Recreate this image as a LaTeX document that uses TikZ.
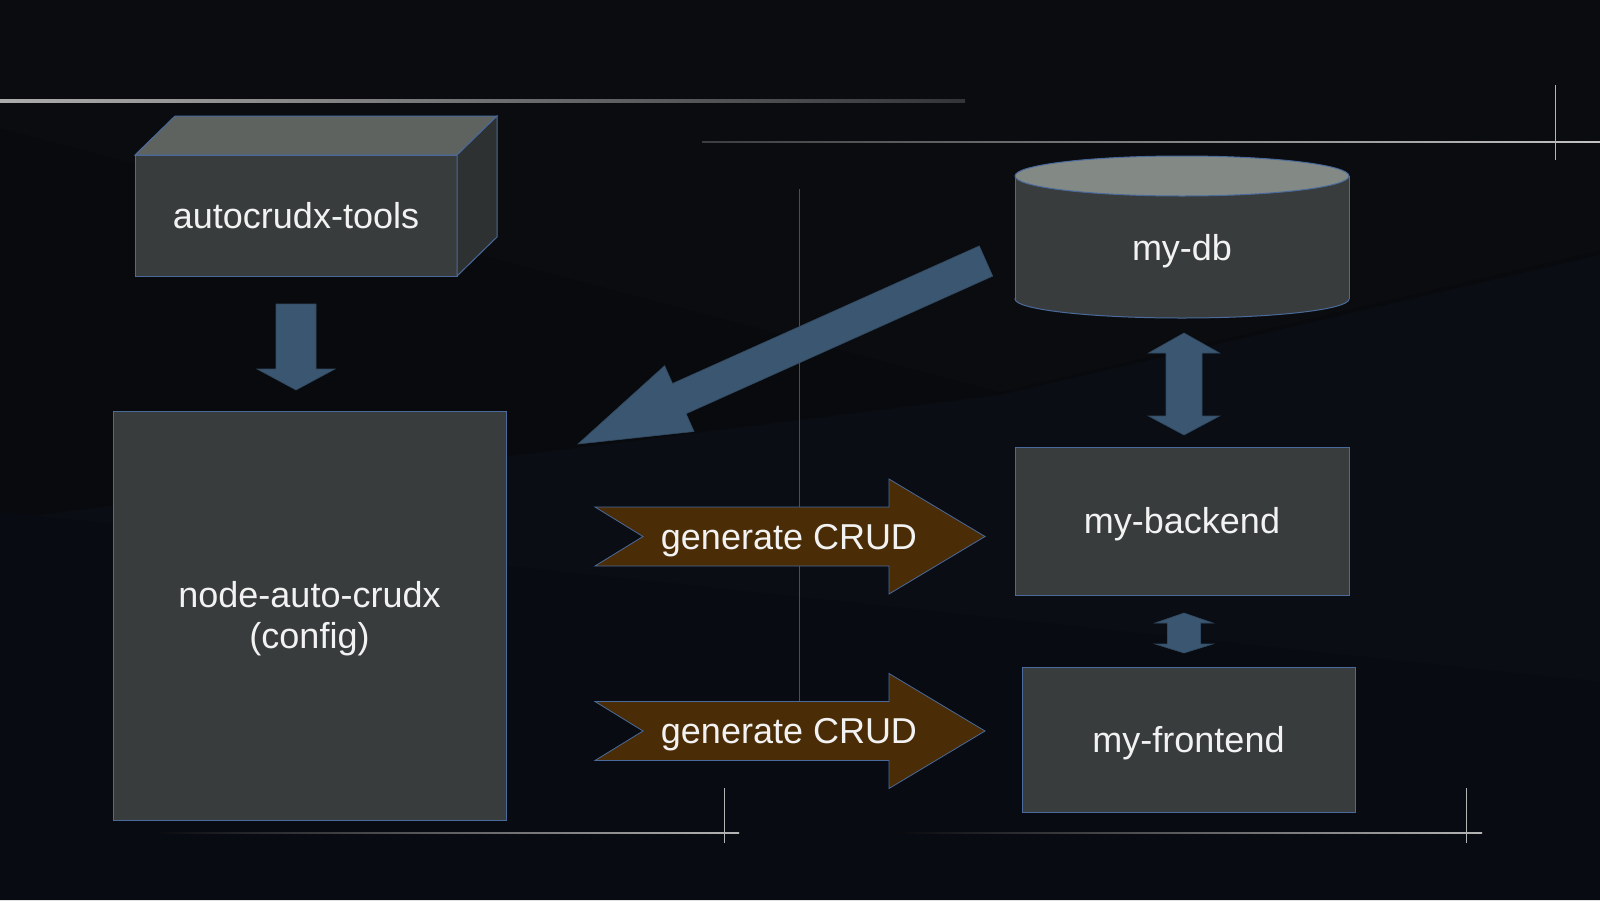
\documentclass[tikz,border=0pt]{standalone}
\usepackage{fontspec}
\setmainfont{Liberation Sans}

\definecolor{bgbase}{HTML}{090A0E}
\definecolor{bgtop}{HTML}{0B0C10}
\definecolor{bgwedge}{HTML}{0A0E14}
\definecolor{bgbot}{HTML}{080C12}
\definecolor{boxfill}{HTML}{383C3C}
\definecolor{boxline}{HTML}{4A6A9C}
\definecolor{boxtop}{HTML}{5E6360}
\definecolor{boxside}{HTML}{2E3131}
\definecolor{dbtop}{HTML}{838A86}
\definecolor{arrowblue}{HTML}{3A5671}
\definecolor{crudbrown}{HTML}{4A2C06}
\definecolor{labeltext}{HTML}{F2F2F2}
\definecolor{rulegray}{HTML}{B4B4B4}

\newcommand{\bigfont}{\fontsize{36pt}{41pt}\selectfont}

\begin{document}
\begin{tikzpicture}[x=1pt, y=-1pt,
    box/.style={rectangle, draw=boxline, line width=1pt, fill=boxfill,
                text=labeltext, font=\bigfont, align=center,
                text height=32.6pt, text depth=7.6pt,
                inner sep=0pt, outer sep=0pt},
    lbl/.style={text=labeltext, font=\bigfont, align=center,
                text height=32.6pt, text depth=7.6pt, inner sep=0pt},
    multilbl/.style={text=labeltext, font=\bigfont, align=center, inner sep=0pt},
    face/.style={draw=boxline, line width=1pt},
    blockarr/.style={fill=arrowblue, draw=arrowblue!85!black, line width=0.6pt},
    crudarr/.style={fill=crudbrown, draw=boxline, line width=0.8pt},
    hair/.style={draw=rulegray, line width=0.9pt},
  ]

  % Background
  \useasboundingbox (0,0) rectangle (1600,900);
  \fill[bgbase] (0,0) rectangle (1600,900);
  \fill[bgtop] (0,0) -- (1600,0) -- (1600,250) -- (1000,392) -- (0,128) -- cycle;
  \fill[bgwedge] (0,520) -- (1000,395) -- (1600,255) -- (1600,682) -- (0,512) -- cycle;
  \fill[bgbot] (0,512) -- (1600,682) -- (1600,900) -- (0,900) -- cycle;

  % Decorative rules
  \shade[left color=rulegray!110, right color=rulegray!25!bgbase]
    (0,99.5) rectangle (965,102.5);
  \shade[left color=rulegray!30!bgbase, right color=rulegray!80]
    (702,141.5) rectangle (1600,142.7);
  \draw[hair] (1555,85) -- (1555,160);
  \draw[draw=rulegray!40!bgbase, line width=0.9pt] (799,189) -- (799,704);
  \shade[left color=bgbase, right color=rulegray]
    (153,832.5) rectangle (739,833.7);
  \draw[hair] (724,788) -- (724,843);
  \shade[left color=bgbase, right color=rulegray]
    (898,832.5) rectangle (1482,833.7);
  \draw[hair] (1466,788) -- (1466,843);

  % Tools box (3D)
  \node[box, minimum width=322pt, minimum height=121pt] (tools)
    at (296,215.5) {autocrudx-tools};
  \filldraw[face, fill=boxtop] (tools.north west) -- ++(40,-39)
    -- ++(322,0) -- (tools.north east) -- cycle;
  \filldraw[face, fill=boxside] (tools.north east) -- ++(40,-39)
    -- ++(0,121) -- (tools.south east) -- cycle;

  % Config box
  \node[box, minimum width=393pt, minimum height=409pt] (cfg)
    at (309.5,615.5) {};
  \node[multilbl] (cfgtext) at (309.5,618.5) {node-auto-crudx\\(config)};

  % Down arrow
  \filldraw[blockarr] (tools.south) ++(-20,28) -- ++(40,0) -- ++(0,65)
    -- ++(19,0) -- ++(-39,21) -- ++(-39,-21) -- ++(19,0) -- cycle;

  % Database cylinder
  \filldraw[face, fill=boxfill] (1182,299) ellipse [x radius=167pt, y radius=19pt];
  \fill[boxfill] (1015,176) rectangle (1349,299);
  \draw[face] (1015,176) -- (1015,299) (1349,176) -- (1349,299);
  \filldraw[face, fill=dbtop] (1182,176) ellipse [x radius=167pt, y radius=20pt];
  \node[lbl] (db) at (1182,248) {my-db};

  % Service boxes
  \node[box, minimum width=334pt, minimum height=148pt] (backend)
    at (1182,521) {my-backend};
  \node[box, minimum width=333pt, minimum height=145pt] (frontend)
    at (1188.5,739.5) {my-frontend};

  % Diagonal arrow from db
  \filldraw[blockarr] (578,444) -- (664.6,365.7) -- (672.5,383.5)
    -- (979.3,245.9) -- (992.7,276.1) -- (686.1,413.7) -- (694,431.5) -- cycle;

  % Double arrows
  \filldraw[blockarr] (1184,333) -- ++(35.5,20) -- ++(-17.5,0) -- ++(0,63)
    -- ++(17.5,0) -- ++(-35.5,19) -- ++(-35.5,-19) -- ++(17.5,0)
    -- ++(0,-63) -- ++(-17.5,0) -- cycle;
  \filldraw[blockarr] (1184,613) -- ++(29,10) -- ++(-12.5,0) -- ++(0,21)
    -- ++(12.5,0) -- ++(-29,9) -- ++(-29,-9) -- ++(12.5,0)
    -- ++(0,-21) -- ++(-12.5,0) -- cycle;

  % Generate arrows
  \coordinate (g1) at (789,536.5);
  \coordinate (g2) at (789,731);
  \filldraw[crudarr] (g1) ++(-194,-29.5) -- ++(294,0) -- ++(0,-28)
    -- ++(96,57.5) -- ++(-96,57.5) -- ++(0,-28) -- ++(-294,0)
    -- ++(48,-29.5) -- cycle;
  \filldraw[crudarr] (g2) ++(-194,-29.5) -- ++(294,0) -- ++(0,-28)
    -- ++(96,57.5) -- ++(-96,57.5) -- ++(0,-28) -- ++(-294,0)
    -- ++(48,-29.5) -- cycle;
  \node[lbl] (gen1) at (g1) {generate CRUD};
  \node[lbl] (gen2) at (g2) {generate CRUD};

\end{tikzpicture}
\end{document}
